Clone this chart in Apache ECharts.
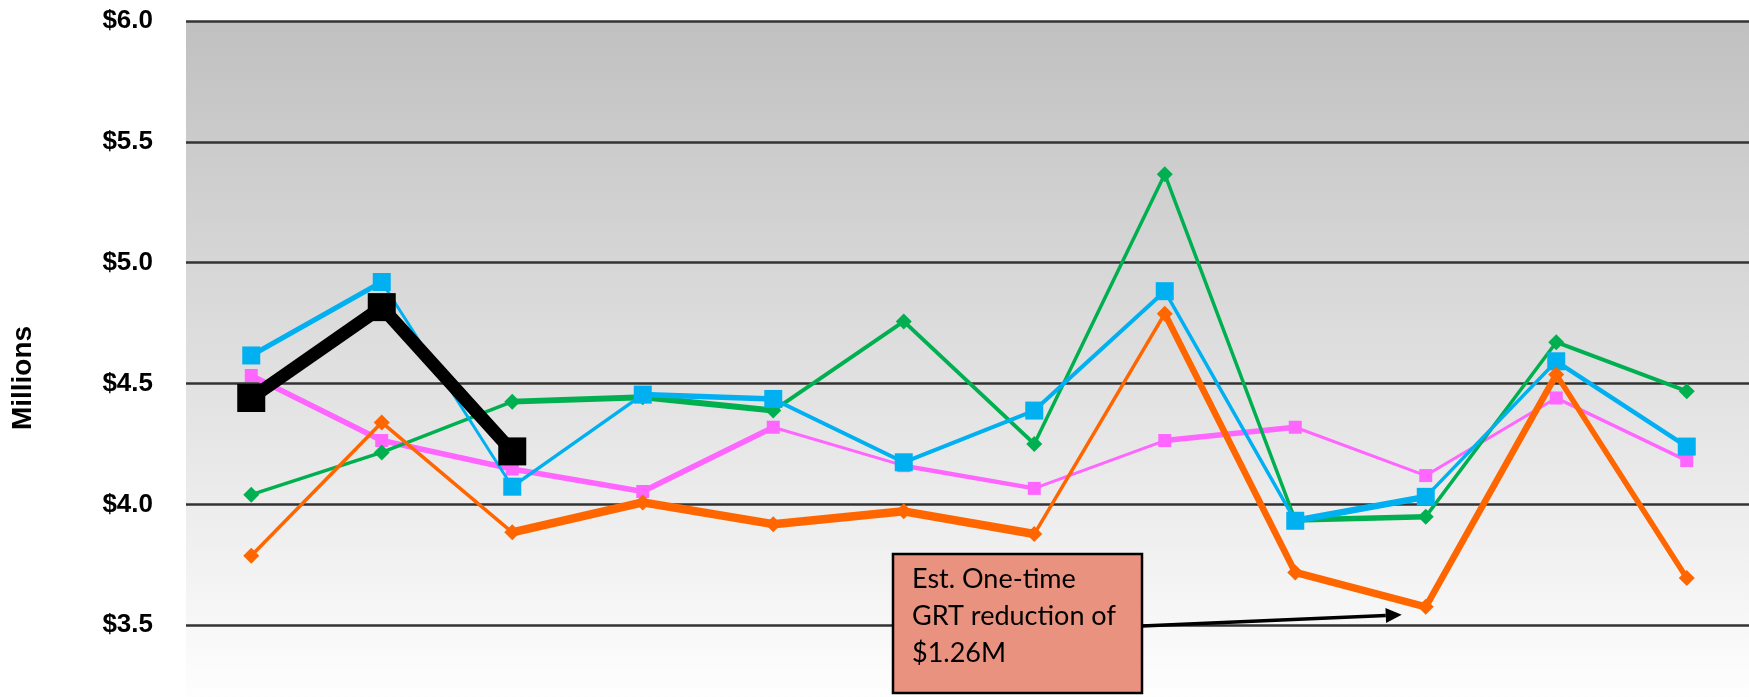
<!DOCTYPE html>
<html>
<head>
<meta charset="utf-8">
<script src="https://cdn.jsdelivr.net/npm/echarts@6/dist/echarts.min.js"></script>
<style>
  html, body { margin: 0; padding: 0; background: #ffffff; }
  #chart { width: 1749px; height: 697px; }
</style>
</head>
<body>
<div id="chart"></div>
<script>
// Monthly gross receipts tax distributions, in millions of dollars
const months = ['Jul', 'Aug', 'Sep', 'Oct', 'Nov', 'Dec', 'Jan', 'Feb', 'Mar', 'Apr', 'May', 'Jun'];

const greenValues  = [4.04, 4.215, 4.425, 4.443, 4.388, 4.757, 4.25, 5.366, 3.935, 3.949, 4.671, 4.468];
const orangeValues = [3.787, 4.339, 3.884, 4.008, 3.918, 3.971, 3.877, 4.789, 3.718, 3.576, 4.537, 3.695];
const blueValues   = [4.616, 4.92, 4.073, 4.454, 4.436, 4.174, 4.388, 4.882, 3.932, 4.031, 4.592, 4.239];
const pinkValues   = [4.533, 4.264, 4.146, 4.053, 4.319, 4.16, 4.066, 4.264, 4.319, 4.119, 4.44, 4.181];
const blackValues  = [4.44, 4.816, 4.219];

const yTickValues = [3.5, 4.0, 4.5, 5.0, 5.5, 6.0];

const noteLines = ['Est. One-time', 'GRT reduction of', '$1.26M'];

// ---- styling ----
// stroke width of each segment (segment i joins month i and month i+1)
const segmentWidths = {
  pink:   [5.5, 5.5, 5.5, 5.5, 3, 4.5, 3, 5.5, 3, 3, 3.5],
  green:  [3.5, 3.5, 6, 6, 4, 4, 3.5, 3.5, 5.5, 3.5, 4],
  blue:   [5, 3, 3.5, 5.5, 4, 4, 4, 3.5, 6.5, 3.5, 4.5],
  orange: [3.5, 3.5, 8.5, 8.5, 8.5, 8.5, 3.5, 6.5, 7.5, 6.5, 5.5],
  black:  [13, 13]
};

const seriesStyle = {
  pink:   { values: pinkValues,   color: '#FF66FF', symbol: 'rect',    size: 13, z: 2 },
  green:  { values: greenValues,  color: '#00B050', symbol: 'diamond', size: 16, z: 3 },
  blue:   { values: blueValues,   color: '#00B0F0', symbol: 'rect',    size: 18, z: 4 },
  orange: { values: orangeValues, color: '#FF6600', symbol: 'diamond', size: 16, z: 5 },
  black:  { values: blackValues,  color: '#000000', symbol: 'rect',    size: 28, z: 6 }
};

function padded(values) {
  return months.map((m, i) => (i < values.length ? values[i] : null));
}

function buildSeries() {
  const out = [];
  Object.keys(seriesStyle).forEach(key => {
    const s = seriesStyle[key];
    const full = padded(s.values);
    const widths = segmentWidths[key];
    // one line piece per segment so each can carry its own width
    for (let i = 0; i < full.length - 1; i++) {
      if (full[i] == null || full[i + 1] == null) continue;
      out.push({
        type: 'line',
        name: key,
        z: s.z,
        symbol: 'none',
        silent: true,
        data: full.map((v, j) => (j === i || j === i + 1 ? v : null)),
        lineStyle: { color: s.color, width: widths[i], cap: 'round' }
      });
    }
    // markers on top of the pieces
    out.push({
      type: 'scatter',
      name: key,
      z: s.z,
      symbol: s.symbol,
      symbolSize: s.size,
      itemStyle: { color: s.color, opacity: 1 },
      data: full
    });
  });
  return out;
}

const chart = echarts.init(document.getElementById('chart'), null, { renderer: 'canvas' });

const option = {
  animation: false,
  backgroundColor: '#ffffff',
  grid: {
    left: 186,
    right: -3,
    top: 21,
    bottom: -49,
    containLabel: false,
    outerBoundsMode: 'none',
    show: true,
    borderWidth: 0,
    backgroundColor: {
      type: 'linear', x: 0, y: 0, x2: 0, y2: 1,
      colorStops: [
        { offset: 0, color: '#C0C0C0' },
        { offset: 0.95, color: '#FFFFFF' },
        { offset: 1, color: '#FFFFFF' }
      ]
    }
  },
  xAxis: {
    type: 'category',
    data: months,
    boundaryGap: true,
    axisLine: { show: false },
    axisTick: { show: false },
    axisLabel: { show: false },
    splitLine: { show: false }
  },
  yAxis: {
    type: 'value',
    min: 3.0,
    max: 6.0,
    interval: 0.5,
    axisLine: { show: false },
    axisTick: { show: false },
    splitLine: { show: true, lineStyle: { color: '#333333', width: 2.5 } },
    axisLabel: {
      margin: 33,
      color: '#000000',
      fontFamily: 'Liberation Sans, Arial, sans-serif',
      fontWeight: 'bold',
      fontSize: 26,
      formatter: v => (yTickValues.indexOf(v) >= 0 ? '$' + v.toFixed(1) : '')
    }
  },
  series: buildSeries()
};

chart.setOption(option);

// annotation box with arrow pointing at the April dip
const box = { x: 893, y: 554, w: 249, h: 139 };
const target = chart.convertToPixel({ gridIndex: 0 }, [9, orangeValues[9]]);
const tip = [target[0] - 24, target[1] + 8];
const start = [box.x + box.w, 626];
const ang = Math.atan2(tip[1] - start[1], tip[0] - start[0]);
const headLen = 16, headHalf = 7.5;
const base = [tip[0] - headLen * Math.cos(ang), tip[1] - headLen * Math.sin(ang)];
const head = [
  tip,
  [base[0] + headHalf * Math.sin(ang), base[1] - headHalf * Math.cos(ang)],
  [base[0] - headHalf * Math.sin(ang), base[1] + headHalf * Math.cos(ang)]
];

chart.setOption({
  graphic: [
    {
      type: 'text',
      x: 23, y: 378,
      rotation: Math.PI / 2,
      style: {
        text: 'Millions',
        fill: '#000000',
        font: 'bold 28px "Liberation Sans", Arial, sans-serif',
        align: 'center',
        verticalAlign: 'middle'
      },
      z: 10
    },
    {
      type: 'line',
      shape: { x1: start[0], y1: start[1], x2: base[0], y2: base[1] },
      style: { stroke: '#000000', lineWidth: 3.5 },
      z: 20
    },
    {
      type: 'polygon',
      shape: { points: head },
      style: { fill: '#000000' },
      z: 20
    },
    {
      type: 'rect',
      shape: { x: box.x, y: box.y, width: box.w, height: box.h },
      style: { fill: '#E8927F', stroke: '#000000', lineWidth: 2.5 },
      z: 21
    },
    {
      type: 'text',
      x: 912, y: 561,
      style: {
        text: noteLines.join('\n'),
        fill: '#000000',
        font: '27px Lato, "Open Sans", sans-serif',
        lineHeight: 37,
        align: 'left',
        verticalAlign: 'top'
      },
      z: 22
    }
  ]
});
</script>
</body>
</html>
